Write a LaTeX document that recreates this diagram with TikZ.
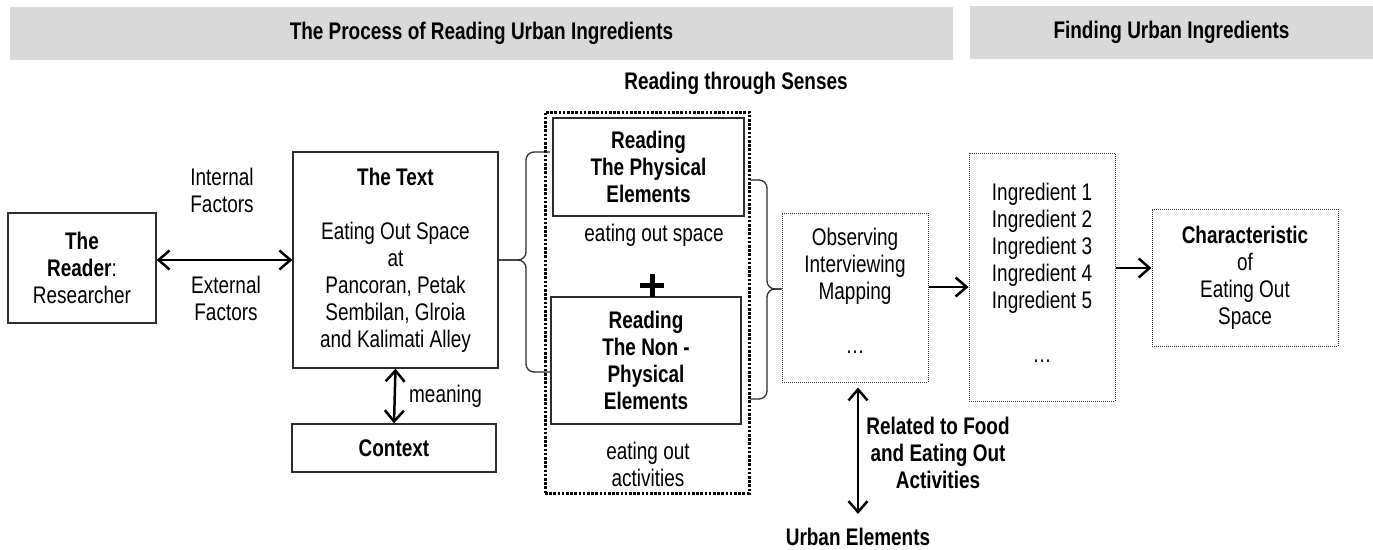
\documentclass[tikz,border=0pt]{standalone}
\usepackage{fontspec}
\setmainfont{Liberation Sans}[FakeStretch=0.79]
\usetikzlibrary{arrows.meta}
\definecolor{bannergray}{RGB}{217,217,217}
\definecolor{edgecol}{RGB}{45,45,45}
\begin{document}
\begin{tikzpicture}[x=1pt,y=-1pt,
  font=\fontsize{24}{27}\selectfont,
  banner/.style={fill=bannergray, draw=none, inner sep=0, font=\bfseries\fontsize{24}{27}\selectfont},
  sbox/.style={draw=edgecol, line width=1.3pt, inner sep=0, align=center},
  dbox/.style={draw=edgecol, line width=1pt, dash pattern=on 1pt off 1pt, inner sep=0, align=center},
  groupbox/.style={draw=black, line width=3pt, dash pattern=on 2.6pt off 1.6pt, inner sep=0},
  lbl/.style={align=center, inner sep=0},
  bold/.style={font=\bfseries\fontsize{24}{27}\selectfont},
  tip/.tip={Straight Barb[length=11pt,width=19pt]},
  conn/.style={line width=2.5pt, tip-tip},
  arr/.style={line width=2.5pt, -tip},
  brace/.style={draw=edgecol, line width=1.3pt, rounded corners=8pt}
]
\useasboundingbox (0,0) rectangle (1373,549);

% banners
\node[banner, minimum width=943, minimum height=53] (b1) at (481.5,33.5) {The Process of Reading Urban Ingredients};
\node[banner, minimum width=403, minimum height=53] (b2) at (1171.5,32.5) {Finding Urban Ingredients};

% left part
\node[sbox, minimum width=148, minimum height=110] (reader) at (82,268) {\textbf{The}\\\textbf{Reader}:\\Researcher};
\node[sbox, minimum width=205, minimum height=216] (text) at (395.5,260) {\textbf{The Text}\\[27pt]Eating Out Space\\at\\Pancoran, Petak\\Sembilan, Glroia\\and Kalimati Alley};
\node[sbox, minimum width=204, minimum height=48] (context) at (394,448) {\textbf{Context}};

\node[lbl] (internal) at (222,190) {Internal\\Factors};
\node[lbl] (external) at (226,298) {External\\Factors};
\node[lbl, anchor=west] (meaning) at (409,396) {meaning};

\draw[conn] (reader.east |- text.west) -- (text.west);
\draw[conn] (text.south) -- (context.north);

% reading through senses
\node[lbl, bold] (senseslbl) at (736,83) {Reading through Senses};
\node[groupbox, minimum width=204, minimum height=381] (senses) at (647,302.5) {};
\node[sbox, bold, minimum width=191, minimum height=98] (phys) at (648.5,167) {Reading\\The Physical\\Elements};
\node[lbl] (physlbl) at (654,235) {eating out space};
\node[sbox, bold, minimum width=190, minimum height=127] (nonphys) at (646,360.5) {Reading\\The Non -\\Physical\\Elements};
\node[lbl] (nonphyslbl) at (648,464) {eating out\\activities};
\draw[line width=5pt] (640,285) -- (664,285);
\draw[line width=5pt] (652,274) -- (652,297);

% braces
\draw[brace] (550,152) -- (526,152) -- (526,260) -- (text.east);
\draw[brace] (550,372) -- (526,372) -- (526,260) -- (text.east);

% methods
\node[dbox, minimum width=146, minimum height=169] (obs) at (855,297.5) {};
\node[lbl] (obstxt) at (855,291) {Observing\\Interviewing\\Mapping\\[27pt]…};
\draw[brace] (750,180) -- (767,180) -- (767,289) -- (obs.west |- 0,289);
\draw[brace] (750,399) -- (767,399) -- (767,289) -- (obs.west |- 0,289);

\node[lbl, bold] (ue) at (858,537) {Urban Elements};
\node[lbl, bold] (related) at (938,453) {Related to Food\\and Eating Out\\Activities};
\draw[conn, shorten <=5pt, shorten >=14pt] (ue.north |- obs.south) -- (ue.north);

% ingredients
\node[dbox, minimum width=146, minimum height=248] (ingr) at (1042,277) {};
\node[lbl] (ingrtxt) at (1042,273) {Ingredient 1\\Ingredient 2\\Ingredient 3\\Ingredient 4\\Ingredient 5\\[27pt]…};
\node[dbox, minimum width=186, minimum height=137] (char) at (1245,277.5) {\textbf{Characteristic}\\of\\Eating Out\\Space};

\draw[arr] (obs.east |- 0,287) -- (ingr.west |- 0,287);
\draw[arr] (ingr.east |- 0,268) -- (char.west |- 0,268);
\end{tikzpicture}
\end{document}
